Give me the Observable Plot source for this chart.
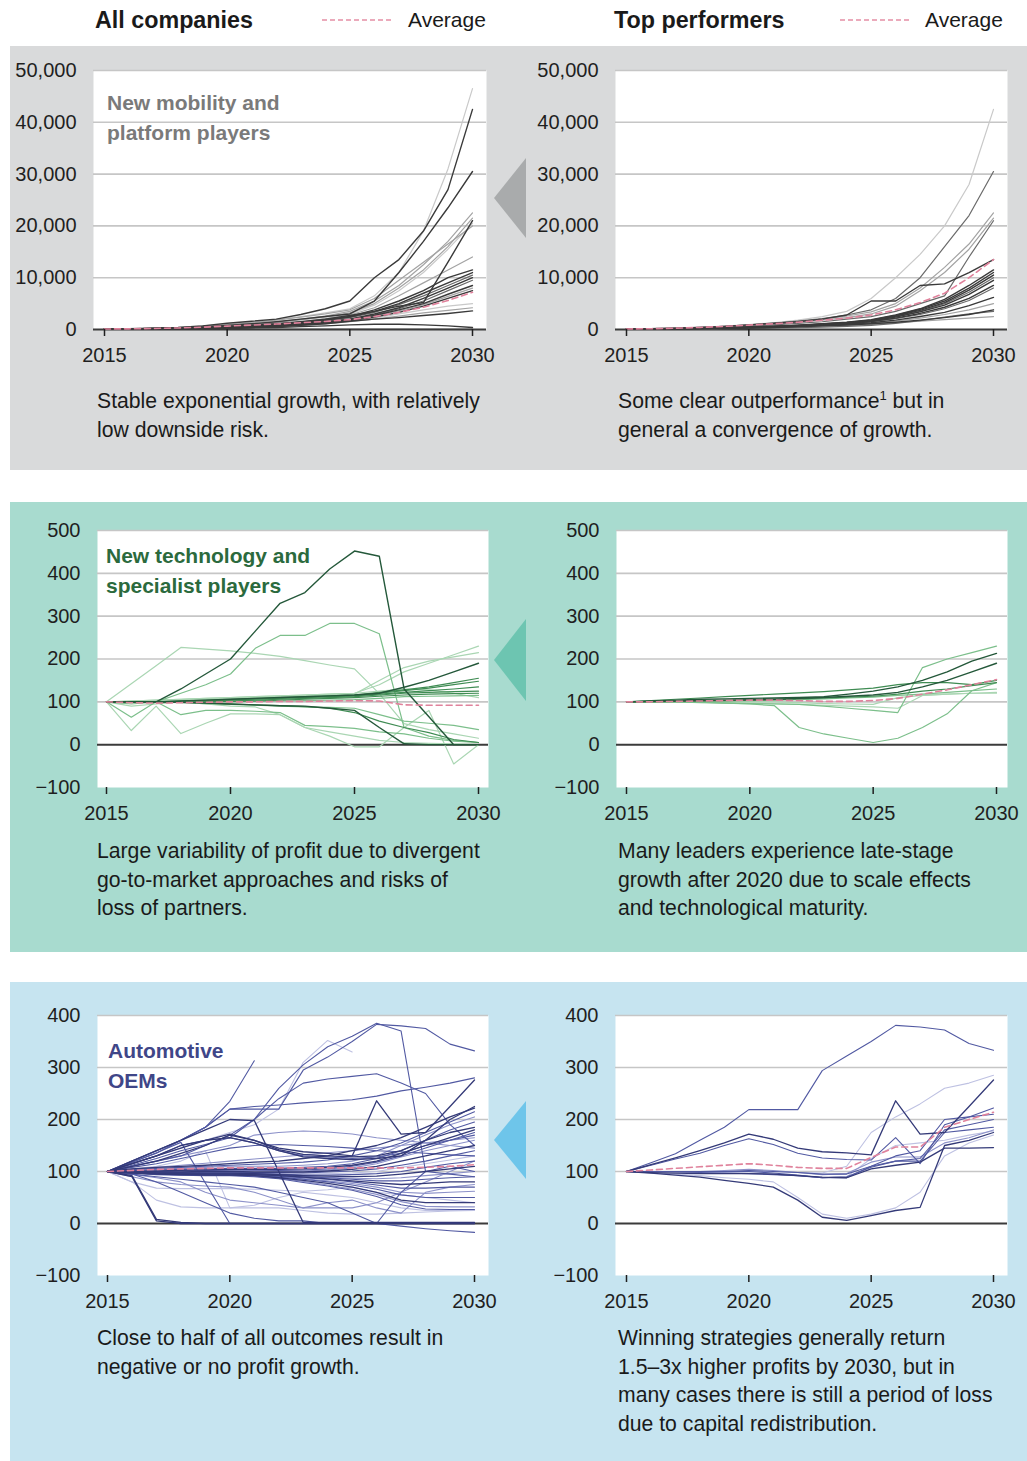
<!DOCTYPE html>
<html><head><meta charset="utf-8">
<script src="https://cdn.jsdelivr.net/npm/d3@7"></script>
<script src="https://cdn.jsdelivr.net/npm/@observablehq/plot@0.6"></script>
<style>
body{margin:0;background:#fff;}
#page{position:relative;width:1027px;height:1461px;overflow:hidden;font-family:"Liberation Sans",Arial,sans-serif;color:#1a1a1a;}
.band{position:absolute;left:10px;right:0;}
.desc{position:absolute;font-size:21.2px;line-height:28.5px;white-space:nowrap;}
.desc sup{font-size:13px;line-height:0;vertical-align:super;}
.head{position:absolute;font-size:23.3px;font-weight:bold;line-height:30px;top:5px;white-space:nowrap;}
.avg{position:absolute;font-size:21px;line-height:30px;top:5px;}
.cat{position:absolute;font-size:21px;font-weight:bold;line-height:29.5px;white-space:nowrap;}
.tri{position:absolute;width:32px;clip-path:polygon(0 50%,100% 0,100% 100%);}
.plotbox{position:absolute;}
</style></head>
<body><div id="page">
<div class="band" style="top:46px;height:424px;background:#d9dadb"></div>
<div class="band" style="top:502px;height:450px;background:#a8dbcf"></div>
<div class="band" style="top:982px;height:479px;background:#c6e4f0"></div>

<div class="head" style="left:95px">All companies</div>
<svg style="position:absolute;left:322px;top:15px" width="72" height="10"><line x1="0" x2="70" y1="5" y2="5" stroke="#e58fa5" stroke-width="1.5" stroke-dasharray="5,3"/></svg>
<div class="avg" style="left:408px">Average</div>
<div class="head" style="left:614px">Top performers</div>
<svg style="position:absolute;left:840px;top:15px" width="72" height="10"><line x1="0" x2="70" y1="5" y2="5" stroke="#e58fa5" stroke-width="1.5" stroke-dasharray="5,3"/></svg>
<div class="avg" style="left:925px">Average</div>

<div class="tri" style="left:494px;top:158px;height:80px;background:#a9abac"></div>
<div class="tri" style="left:494px;top:619px;height:82px;background:#6dc5b1"></div>
<div class="tri" style="left:494px;top:1101px;height:78px;background:#6ec5ea"></div>

<div id="p1" class="plotbox"></div><div id="p2" class="plotbox"></div>
<div id="p3" class="plotbox"></div><div id="p4" class="plotbox"></div>
<div id="p5" class="plotbox"></div><div id="p6" class="plotbox"></div>

<div class="cat" style="left:107px;top:88px;color:#7a7a7a">New mobility and<br>platform players</div>
<div class="cat" style="left:106px;top:541px;color:#2b6a3d">New technology and<br>specialist players</div>
<div class="cat" style="left:108px;top:1036px;color:#3f4688">Automotive<br>OEMs</div>

<div class="desc" style="left:97px;top:387px">Stable exponential growth, with relatively<br>low downside risk.</div>
<div class="desc" style="left:618px;top:387px">Some clear outperformance<sup>1</sup> but in<br>general a convergence of growth.</div>
<div class="desc" style="left:97px;top:837px">Large variability of profit due to divergent<br>go-to-market approaches and risks of<br>loss of partners.</div>
<div class="desc" style="left:618px;top:837px">Many leaders experience late-stage<br>growth after 2020 due to scale effects<br>and technological maturity.</div>
<div class="desc" style="left:97px;top:1324px">Close to half of all outcomes result in<br>negative or no profit growth.</div>
<div class="desc" style="left:618px;top:1324px">Winning strategies generally return<br>1.5–3x higher profits by 2030, but in<br>many cases there is still a period of loss<br>due to capital redistribution.</div>
</div>
<script>
// ---------- DATA ----------
const years = [2015,2016,2017,2018,2019,2020,2021,2022,2023,2024,2025,2026,2027,2028,2029,2030];
const xTickYears = [2015,2020,2025,2030];
const yTicksMobility = [0,10000,20000,30000,40000,50000];
const yTicksTech = [-100,0,100,200,300,400,500];
const yTicksOem = [-100,0,100,200,300,400];

// New mobility and platform players — all companies
const mobilityAll = [
 [100,150,250,400,700,1000,1400,1900,2500,3200,4000,6500,11000,19000,31000,46500],
 [100,150,250,400,700,1200,1600,2000,2900,4000,5500,10000,13500,19000,27000,42500],
 [100,120,200,300,500,800,1100,1500,2000,2500,3000,5500,11000,17000,23500,30500],
 [100,130,200,300,500,800,1100,1500,2000,2600,3500,5500,8500,12500,17000,22500],
 [100,130,200,300,450,700,1000,1400,1900,2500,3200,5000,8000,11500,16000,21500],
 [100,120,180,260,400,600,850,1100,1500,2000,2700,3500,4500,5200,13000,21000],
 [100,120,180,260,400,600,900,1300,1800,2400,3000,4700,7500,11000,15500,20500],
 [100,120,180,250,380,550,800,1100,1500,2100,2800,4200,6500,9000,11500,14000],
 [100,120,170,240,350,500,700,1000,1400,1900,2500,3800,5500,7500,10000,11500],
 [100,110,160,230,330,480,650,900,1300,1800,2400,3500,5000,7000,9000,11000],
 [100,110,150,220,320,450,620,850,1200,1700,2300,3300,4800,6500,8500,10500],
 [100,110,150,210,300,420,600,800,1100,1500,2000,3000,4200,6000,8000,10000],
 [100,110,150,200,290,400,560,760,1050,1450,2000,2800,4000,5500,7500,9500],
 [100,110,140,200,280,380,520,720,1000,1400,1900,2700,3800,5000,6800,8500],
 [100,110,140,190,270,360,500,680,950,1300,1800,2600,3600,4800,6400,8000],
 [100,100,130,180,250,340,470,640,900,1250,1700,2400,3300,4500,6000,7500],
 [100,100,130,170,240,320,450,600,850,1150,1600,2200,3000,3800,4500,5000],
 [100,100,120,160,220,300,420,560,800,1100,1500,2000,2600,3200,3700,4200],
 [100,100,120,160,220,300,420,560,800,1100,1600,2000,2300,2700,3100,3600],
 [100,100,100,120,150,200,300,400,550,700,900,1000,1000,900,700,400],
 [100,80,60,50,40,30,20,20,20,20,20,20,20,20,20,20],
 [100,130,220,350,600,900,1300,1800,2400,3000,3800,6000,9500,13000,16500,20000]
];
const mobilityAllTone = [3,0,0,2,2,0,3,2,0,0,1,0,1,0,2,0,3,2,0,0,0,2];
const mobilityAllAvg = [100,130,200,300,450,650,850,1050,1300,1550,1900,2500,3300,4300,5600,7200];

// New mobility and platform players — top performers
const mobilityTop = [
 [100,150,250,400,650,950,1300,1800,2500,3500,6000,10000,14500,20000,28000,42500],
 [100,150,250,400,600,900,1200,1600,2100,2800,3800,6000,10000,16000,22000,30500],
 [100,130,220,350,550,800,1100,1500,2000,2600,3400,5000,8000,12000,16500,22500],
 [100,130,200,320,500,750,1000,1400,1800,2300,3000,4500,7500,11000,15500,21500],
 [100,120,180,280,430,650,900,1200,1500,2000,2500,3500,5000,6500,14000,21000],
 [100,150,250,400,600,900,1200,1500,2000,2800,5500,5500,8500,8800,11000,13500],
 [100,110,160,230,340,480,650,850,1100,1400,1900,2800,4000,5800,8500,11500],
 [100,110,150,220,320,450,600,800,1050,1350,1800,2700,3900,5500,8000,11000],
 [100,110,150,210,300,430,580,780,1000,1300,1750,2600,3700,5200,7600,10500],
 [100,110,150,200,290,410,560,750,980,1250,1700,2500,3500,5000,7200,10000],
 [100,100,140,190,280,390,540,720,950,1200,1650,2400,3400,4700,6800,9500],
 [100,100,130,180,260,370,500,680,900,1150,1550,2200,3100,4300,6000,8500],
 [100,100,130,170,250,350,480,650,850,1100,1500,2100,2900,4000,5600,8000],
 [100,100,120,160,230,320,440,600,800,1000,1300,1800,2500,3300,4600,6200],
 [100,100,120,160,220,300,410,560,750,950,1200,1600,2200,2900,3800,5000],
 [100,100,110,150,200,280,380,520,700,880,1100,1400,1800,2300,2900,3800],
 [100,100,110,140,190,260,350,480,640,800,1000,1300,1600,1900,2200,2500],
 [100,100,100,120,150,200,260,340,450,600,800,1200,1700,2400,3000,3500]
];
const mobilityTopTone = [3,1,2,2,1,0,0,0,0,1,0,0,1,0,2,0,2,1];
const mobilityTopAvg = [100,150,250,400,600,850,1100,1400,1800,2200,2800,3800,5200,7000,10000,13500];

// New technology and specialist players — all companies
const techAll = [
 [100,100,100,130,165,200,265,330,355,410,452,440,130,65,0,0],
 [100,95,100,120,140,165,225,255,255,283,283,259,40,20,10,5],
 [100,142,184,227,223,219,213,206,196,186,177,119,49,35,25,15],
 [100,102,104,106,108,110,112,114,116,118,120,140,170,190,210,230],
 [100,101,103,105,107,109,111,113,115,117,118,150,180,195,205,215],
 [100,100,100,102,104,106,108,110,112,114,116,120,134,150,170,190],
 [100,100,100,102,104,106,108,110,112,114,116,122,128,135,145,155],
 [100,100,100,101,103,105,107,109,111,113,115,120,126,132,140,148],
 [100,100,100,101,102,104,106,108,110,112,114,118,122,126,130,135],
 [100,100,100,100,101,102,104,106,108,110,112,116,120,122,124,125],
 [100,100,100,100,100,101,102,104,106,108,110,113,116,118,119,120],
 [100,100,100,100,100,100,101,102,103,104,105,108,112,113,114,115],
 [100,102,104,106,108,110,112,114,116,118,120,125,130,128,120,110],
 [100,100,100,99,97,95,93,91,90,85,80,40,2,0,0,0],
 [100,100,100,99,97,95,93,91,89,85,75,55,40,28,12,5],
 [100,64,100,70,80,80,78,75,45,42,38,30,25,15,8,5],
 [100,33,90,26,50,72,72,70,40,30,20,10,5,3,2,0],
 [100,90,95,100,95,90,88,70,40,20,-5,-5,40,80,-45,0],
 [100,100,100,98,96,94,92,90,88,87,85,70,55,50,45,35]
];
const techAllTone = [0,2,3,3,3,0,1,1,1,1,1,2,3,0,1,2,3,3,2];
const techAllAvg = [100,98,97,98,99,100,100,101,101,102,103,102,93,92,92,92];

// New technology and specialist players — top performers
const techTop = [
 [100,100,100,98,97,96,95,94,90,85,80,75,180,200,215,230],
 [100,102,104,106,107,108,109,110,112,118,125,135,150,170,195,213],
 [100,101,102,103,104,105,106,108,110,113,116,122,135,150,170,190],
 [100,103,106,109,112,115,118,121,124,128,132,140,145,145,140,150],
 [100,100,101,102,103,104,105,107,109,111,113,118,125,130,138,145],
 [100,100,100,101,102,103,104,105,107,109,111,115,118,122,126,130],
 [100,100,100,100,100,100,100,98,96,95,94,110,115,118,120,120],
 [100,100,100,99,97,95,91,40,25,15,5,15,40,72,126,145],
 [100,100,100,99,98,97,96,94,92,90,88,85,115,118,120,122]
];
const techTopTone = [2,0,0,1,1,2,3,2,3];
const techTopAvg = [100,100,101,102,103,104,104,103,101,101,103,108,118,128,140,152];

// Automotive OEMs — all companies
const oemAll = [
 [100,120,140,160,185,235,313,null,null,null,null,null,null,null,null,null],
 [100,118,135,160,185,220,220,220,295,320,350,383,380,375,345,332],
 [100,110,120,130,150,170,200,260,305,340,360,385,370,100,95,90],
 [100,115,130,145,160,175,190,220,310,352,330,null,null,null,null,null],
 [100,120,140,160,185,220,225,228,232,235,238,245,255,262,270,280],
 [100,115,130,150,160,165,200,240,270,278,283,288,270,250,190,150],
 [100,110,120,135,150,170,160,145,138,135,130,236,172,175,225,276],
 [100,115,130,150,160,165,155,140,128,125,123,125,130,160,200,225],
 [100,120,140,160,180,200,198,100,2,2,2,2,2,2,2,2],
 [100,115,130,145,160,172,160,142,133,130,128,130,140,160,175,185],
 [100,112,125,140,152,165,155,140,130,128,125,128,135,150,160,175],
 [100,110,120,130,140,150,170,175,178,176,172,165,160,155,150,145],
 [100,108,115,125,135,145,150,152,150,148,145,140,138,135,132,130],
 [100,105,108,110,112,115,118,120,125,130,140,150,165,185,205,222],
 [100,104,106,108,110,112,114,116,118,122,130,140,155,175,195,215],
 [100,102,104,106,108,110,110,110,112,115,120,130,150,170,190,205],
 [100,102,103,104,105,106,106,106,108,110,115,125,140,160,180,195],
 [100,100,101,102,103,104,104,104,105,108,112,120,135,150,165,180],
 [100,100,100,101,102,103,103,102,103,105,110,118,130,145,160,170],
 [100,100,100,101,102,103,102,101,101,103,107,115,128,140,150,160],
 [100,100,99,99,100,100,99,99,99,101,104,110,120,130,140,150],
 [100,99,98,98,99,99,98,98,97,99,101,105,112,120,130,140],
 [100,99,98,98,98,98,97,96,95,96,97,100,108,115,122,130],
 [100,99,98,97,97,97,96,95,93,93,94,96,100,108,115,120],
 [100,99,97,97,97,97,96,94,92,91,90,91,95,100,105,110],
 [100,98,97,96,96,96,95,93,91,89,87,86,88,92,96,100],
 [100,98,97,96,96,96,95,93,90,88,85,82,82,85,88,90],
 [100,98,96,95,95,95,94,92,89,86,82,78,75,77,80,80],
 [100,98,96,95,95,95,94,91,88,85,80,74,68,68,70,70],
 [100,98,96,95,94,94,93,90,86,82,77,70,60,58,60,62],
 [100,97,95,94,94,94,92,89,85,80,74,66,55,50,50,50],
 [100,97,95,94,93,93,92,88,83,77,70,60,45,40,40,40],
 [100,97,95,93,93,93,91,87,81,74,66,56,42,33,32,32],
 [100,97,94,93,92,92,90,86,79,72,64,52,36,28,27,27],
 [100,90,5,0,0,0,0,0,0,0,0,0,0,0,0,0],
 [100,92,8,2,0,0,0,0,0,0,0,0,0,0,0,0],
 [100,118,136,156,78,0,0,0,0,0,0,0,0,0,0,0],
 [100,80,68,67,67,67,66,64,62,65,70,60,55,50,45,40],
 [100,90,80,75,72,70,60,45,30,40,45,30,20,60,70,75],
 [100,95,90,85,80,75,70,60,50,40,20,0,-5,-10,-14,-17],
 [100,95,80,60,40,20,10,5,5,0,0,0,60,100,110,100],
 [100,105,110,120,140,30,35,50,60,55,50,40,30,25,25,25],
 [100,80,45,32,30,30,30,30,25,20,18,18,20,22,24,25],
 [100,95,88,80,60,45,40,35,30,30,30,40,60,80,100,120],
 [100,104,108,112,116,120,124,128,132,136,140,145,150,155,160,165]
];
const oemAllTone = [1,1,1,3,1,1,0,0,0,0,1,2,1,0,1,2,1,0,1,2,0,1,3,1,0,2,1,0,1,2,1,0,2,1,0,0,1,3,2,1,1,3,3,2,2];
const oemAllAvg = [100,102,104,105,106,107,107,107,107,107,107,107,107,108,110,113];

// Automotive OEMs — top performers
const oemTop = [
 [100,117,134,160,185,219,219,219,294,322,350,381,378,372,346,333],
 [100,113,126,140,155,172,162,145,138,136,132,236,172,175,225,276],
 [100,112,124,135,150,163,152,135,126,123,122,165,115,190,205,222],
 [100,100,100,100,100,100,100,98,97,110,175,205,230,260,270,285],
 [100,97,93,89,83,77,70,45,12,6,15,25,31,150,160,175],
 [100,98,95,92,88,85,80,50,18,10,18,30,60,130,155,170],
 [100,100,100,100,100,100,97,93,88,90,108,120,120,175,180,185],
 [100,100,99,98,97,96,94,92,88,88,110,120,125,180,190,200],
 [100,100,100,100,100,102,100,98,95,95,110,130,140,200,205,210],
 [100,98,97,96,96,96,95,92,89,88,105,112,118,145,145,146],
 [100,100,100,100,102,104,102,98,94,96,118,128,128,155,165,180],
 [100,100,100,99,98,97,95,92,88,90,125,150,155,160,170,178]
];
const oemTopTone = [1,0,1,3,0,3,1,1,1,0,2,3];
const oemTopAvg = [100,103,106,109,112,115,112,108,106,106,127,147,147,185,200,214];

// ---------- DRAWING ----------
const grays = ["#3a3a3a","#6a6a6a","#a3a3a3","#c9c9c9"];
const greens = ["#24583a","#3f8c53","#7cbf8b","#aad6b3"];
const blues = ["#343a78","#5159a2","#8c91c9","#bec1e2"];
const fmt = d3.format(",");

function toLong(series, tones, tone) {
  const out = [];
  series.forEach((s, i) => {
    if (tones[i] !== tone) return;
    s.forEach((v, j) => out.push({year: years[j], value: v, series: i}));
  });
  return out;
}

function panel(id, cfg) {
  const {series, tones, avg, yDomain, yTicks, boxL, boxR, boxT, boxB, x0, x1, svgLeft, palette, sw} = cfg;
  const mT = 20, mB = 48;
  const width = boxR - svgLeft + 4;
  const height = (boxB - boxT) + mT + mB;
  const lineMarks = [3,2,1,0].map(t => Plot.line(toLong(series, tones, t), {
    x: "year", y: "value", z: "series", stroke: palette[t], strokeWidth: t === 0 ? sw + 0.2 : sw
  }));
  const avgData = avg.map((v, j) => ({year: years[j], value: v}));
  const svg = Plot.plot({
    width, height,
    marginLeft: boxL - svgLeft, marginRight: width - (boxR - svgLeft),
    marginTop: mT, marginBottom: mB,
    x: {domain: [2015, 2030], range: [x0 - svgLeft, x1 - svgLeft]},
    y: {domain: yDomain},
    style: {fontFamily: "Liberation Sans, Arial, sans-serif", fontSize: "20px", background: "transparent", color: "#1f1f1f", overflow: "visible"},
    marks: [
      Plot.frame({fill: "white", stroke: null}),
      Plot.ruleY(yTicks.filter(t => t !== 0 && t !== yDomain[0]), {stroke: "#c6c6c6", strokeWidth: 1.6}),
      Plot.ruleY([0], {stroke: "#3b3b3b", strokeWidth: 2}),
      ...lineMarks,
      Plot.line(avgData, {x: "year", y: "value", stroke: "#e0829c", strokeWidth: 1.6, strokeDasharray: "6,4"}),
      Plot.axisY(yTicks, {tickSize: 0, tickPadding: 17, tickFormat: fmt, label: null, fontSize: 20}),
      Plot.axisX(xTickYears, {tickSize: 7, tickPadding: 11, tickFormat: d => String(d), label: null, fontSize: 20, strokeWidth: 1.5})
    ]
  });
  const host = document.getElementById(id);
  host.style.left = svgLeft + "px";
  host.style.top = (boxT - mT) + "px";
  host.appendChild(svg);
}

panel("p1", {series: mobilityAll, tones: mobilityAllTone, avg: mobilityAllAvg, yDomain: [0, 50000], yTicks: yTicksMobility,
  boxL: 93, boxR: 486, boxT: 69.5, boxB: 328.5, x0: 104, x1: 472, svgLeft: 0, palette: grays, sw: 1.2});
panel("p2", {series: mobilityTop, tones: mobilityTopTone, avg: mobilityTopAvg, yDomain: [0, 50000], yTicks: yTicksMobility,
  boxL: 615, boxR: 1007, boxT: 69.5, boxB: 328.5, x0: 626, x1: 993, svgLeft: 510, palette: grays, sw: 1.2});
panel("p3", {series: techAll, tones: techAllTone, avg: techAllAvg, yDomain: [-100, 500], yTicks: yTicksTech,
  boxL: 97, boxR: 488, boxT: 530, boxB: 787, x0: 106, x1: 478, svgLeft: 0, palette: greens, sw: 1.2});
panel("p4", {series: techTop, tones: techTopTone, avg: techTopAvg, yDomain: [-100, 500], yTicks: yTicksTech,
  boxL: 616, boxR: 1007, boxT: 530, boxB: 787, x0: 626, x1: 996, svgLeft: 510, palette: greens, sw: 1.2});
panel("p5", {series: oemAll, tones: oemAllTone, avg: oemAllAvg, yDomain: [-100, 400], yTicks: yTicksOem,
  boxL: 97, boxR: 488, boxT: 1015, boxB: 1275, x0: 107, x1: 474, svgLeft: 0, palette: blues, sw: 1.1});
panel("p6", {series: oemTop, tones: oemTopTone, avg: oemTopAvg, yDomain: [-100, 400], yTicks: yTicksOem,
  boxL: 615, boxR: 1007, boxT: 1015, boxB: 1275, x0: 626, x1: 993, svgLeft: 510, palette: blues, sw: 1.1});
</script>
</body></html>
